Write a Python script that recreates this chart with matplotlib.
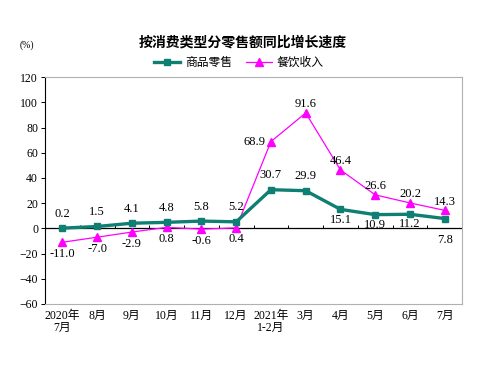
import numpy as np
import matplotlib
matplotlib.use('Agg')
import matplotlib.pyplot as plt

plt.rcParams['font.family'] = ['Liberation Serif', 'Noto Sans CJK SC']

# data
months = ['2020年\n7月', '8月', '9月', '10月', '11月', '12月', '2021年\n1-2月',
          '3月', '4月', '5月', '6月', '7月']
retail = [0.2, 1.5, 4.1, 4.8, 5.8, 5.2, 30.7, 29.9, 15.1, 10.9, 11.2, 7.8]
catering = [-11.0, -7.0, -2.9, 0.8, -0.6, 0.4, 68.9, 91.6, 46.4, 26.6, 20.2, 14.3]
# where the labels sit: 'up', 'down', 'left'
retail_pos = ['up'] * 8 + ['down'] * 4
catering_pos = ['down'] * 6 + ['left'] + ['up'] * 5

teal = '#0f7f73'
magenta = '#ff00ff'

fig = plt.figure(figsize=(4.93, 3.67), dpi=100)
ax = fig.add_axes([0.0913, 0.1717, 0.846, 0.618])

x = np.arange(len(months))
ax.plot(x, catering, color=magenta, lw=0.9, marker='^', ms=5.5, zorder=3, label='餐饮收入')
ax.plot(x, retail, color=teal, lw=2.4, marker='s', ms=4, zorder=4, label='商品零售')

ax.axhline(0, color='black', lw=0.9, zorder=2)
# small ticks on the zero line between the months
ax.vlines(x[:-1] + 0.5, 0, 2.5, color='black', lw=0.7, zorder=2)

ax.set_xlim(-0.5, 11.5)
ax.set_ylim(-60, 120)
ax.set_yticks(np.arange(-60, 121, 20))
ax.set_xticks(x)
ax.set_xticklabels(months, fontsize=8.5, linespacing=1.0)
ax.tick_params(axis='x', length=0, pad=4)
ax.tick_params(axis='y', length=3, width=0.7, labelsize=8.5, pad=2)

for s in ['top', 'right', 'bottom']:
    ax.spines[s].set_color('#b0b0b0')
    ax.spines[s].set_linewidth(0.8)
ax.spines['left'].set_color('black')
ax.spines['left'].set_linewidth(0.8)

for xi, v, p in zip(x, retail, retail_pos):
    if p == 'up':
        dy, va = 6, 'bottom'
    else:
        dy, va = (-11 if xi == 11 else -3), 'top'
    ax.annotate(f'{v:.1f}', (xi, v), xytext=(0, dy), textcoords='offset points',
                ha='center', va=va, fontsize=9)
for xi, v, p in zip(x, catering, catering_pos):
    if p == 'up':
        xy, ha, va = (0, 2), 'center', 'bottom'
    elif p == 'down':
        xy, ha, va = (0, -4), 'center', 'top'
    else:
        xy, ha, va = (-4, 0), 'right', 'center'
    ax.annotate(f'{v:.1f}', (xi, v), xytext=xy, textcoords='offset points',
                ha=ha, va=va, fontsize=9)

fig.text(0.493, 0.885, '按消费类型分零售额同比增长速度', ha='center', va='center',
         fontsize=10, fontweight='bold', family='Noto Sans CJK SC')
fig.text(0.055, 0.877, '(%)', ha='center', va='center', fontsize=7)

h, l = ax.get_legend_handles_labels()
leg = fig.legend(h[::-1], l[::-1], loc='center', bbox_to_anchor=(0.485, 0.83), ncol=2,
                 frameon=False, handlelength=2.2, columnspacing=1.2,
                 handletextpad=0.4, prop={'family': 'Noto Sans CJK SC', 'size': 8.5})

fig.savefig('out.png', dpi=100)
